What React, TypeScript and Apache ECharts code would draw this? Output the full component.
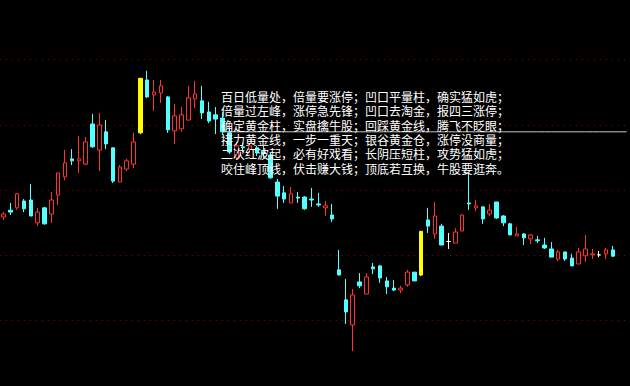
import React, { useEffect, useRef } from "react";
import * as echarts from "echarts";

// Daily prices: open, close, low, high
const opens = [
  17.18, 17.39, 17.46, 17.67, 17.7, 17.0, 17.46, 17.27, 17.85, 18.41,
  18.96, 18.9, 18.8, 20.03, 19.23, 19.79, 19.3, 18.25, 18.65, 18.8,
  19.76, 21.38, 20.92, 20.98, 20.86, 19.82, 19.88, 20.15, 20.8, 20.74,
  20.4, 20.31, 20.21, 19.76, 18.99, 19.33, 19.26, 19.3, 19.17, 19.08,
  18.25, 17.92, 17.61, 17.79, 17.79, 17.73, 17.58, 17.46, 17.24, 15.56,
  14.64, 13.87, 15.19, 14.82, 15.65, 15.68, 15.22, 15.0, 14.94, 15.1,
  15.49, 15.4, 17.09, 16.66, 16.9, 16.43, 16.38, 16.75, 17.61, 17.46,
  17.49, 17.27, 17.64, 17.21, 16.97, 16.6, 16.66, 16.51, 16.48, 16.32,
  16.2, 15.89, 16.11, 15.92, 15.74, 15.99, 16.02, 16.02, 16.05, 16.17,
];
const closes = [
  17.27, 17.33, 17.89, 17.43, 17.21, 17.33, 16.97, 17.7, 18.53, 18.84,
  18.9, 18.96, 19.48, 19.33, 20.0, 19.42, 18.28, 18.71, 18.9, 19.48,
  21.43, 20.86, 21.01, 21.2, 19.85, 20.28, 20.31, 20.83, 20.95, 20.37,
  20.12, 20.18, 19.79, 19.17, 19.36, 19.3, 19.36, 19.14, 19.14, 18.38,
  17.82, 17.73, 17.89, 17.76, 17.43, 17.7, 17.55, 17.52, 17.12, 15.4,
  14.27, 14.79, 15.07, 15.34, 15.59, 15.31, 15.04, 14.94, 15.0, 15.49,
  15.22, 16.74, 16.9, 17.21, 16.32, 16.43, 16.72, 17.24, 17.58, 17.52,
  17.12, 17.39, 17.15, 17.0, 16.63, 16.66, 16.54, 16.63, 16.45, 16.23,
  15.95, 16.11, 15.89, 15.68, 16.11, 16.2, 16.05, 16.02, 16.17, 15.98,
];
const lows = [
  17.09, 17.24, 17.4, 17.33, 17.21, 16.9, 16.94, 17.0, 17.55, 18.31,
  18.77, 18.53, 18.77, 19.3, 18.59, 19.26, 18.22, 18.25, 18.59, 18.68,
  19.72, 20.83, 20.43, 20.67, 19.76, 19.42, 19.79, 20.15, 20.52, 20.18,
  20.06, 19.72, 19.69, 19.11, 18.93, 19.17, 19.14, 19.05, 18.99, 18.35,
  17.43, 17.61, 17.61, 17.61, 17.4, 17.49, 17.49, 17.21, 17.03, 15.4,
  13.9, 13.07, 15.0, 14.82, 15.43, 15.16, 14.82, 14.91, 14.85, 15.04,
  15.22, 15.37, 16.69, 16.51, 16.32, 16.2, 16.38, 16.75, 17.4, 17.36,
  16.97, 17.21, 17.12, 16.9, 16.63, 16.6, 16.32, 16.35, 16.38, 16.2,
  15.95, 15.83, 15.83, 15.68, 15.74, 15.8, 15.89, 15.95, 15.89, 15.95,
];
const highs = [
  17.33, 17.61, 17.92, 17.73, 18.19, 17.46, 17.49, 17.95, 18.53, 19.23,
  19.26, 19.66, 19.63, 20.34, 20.37, 20.15, 19.3, 18.77, 18.96, 19.76,
  21.43, 21.66, 21.38, 21.38, 20.89, 20.64, 20.55, 21.2, 21.35, 21.2,
  20.71, 20.55, 20.4, 19.91, 19.48, 19.45, 19.45, 19.36, 19.36, 19.14,
  18.35, 18.13, 18.1, 17.95, 17.82, 18.07, 17.92, 17.67, 17.58, 16.17,
  15.28, 14.97, 15.46, 15.46, 15.77, 15.71, 15.34, 15.25, 15.07, 15.56,
  15.49, 16.74, 17.46, 17.64, 16.97, 16.69, 16.84, 17.27, 18.53, 17.7,
  17.49, 17.58, 17.64, 17.24, 17.0, 16.87, 16.69, 16.66, 16.6, 16.54,
  16.41, 16.17, 16.11, 16.05, 16.23, 16.63, 16.2, 16.14, 16.23, 16.29,
];
// Trading days, plus two empty slots on the right edge
const days = [...opens.map((_, i) => `D${i + 1}`), "", ""];

// Horizontal price line, drawn from this day to the right edge
const priceLine = 19.79;
const priceLineFrom = 32;

const verse = [
  "百日低量处，倍量要涨停；凹口平量柱，确实猛如虎；",
  "倍量过左峰，涨停急先锋；凹口去淘金，报四三涨停；",
  "确定黄金柱，实盘擒牛股；回踩黄金线，腾飞不眨眼；",
  "接力黄金线，一步一重天；银谷黄金仓，涨停没商量；",
  "二次红波起，必有好戏看；长阴压短柱，攻势猛如虎；",
  "咬住峰顶线，伏击赚大钱；顶底若互换，牛股要逛奔。",
];

const UP = "#ff3232";
const DOWN = "#54ffff";
const LIMIT = "#ffff00";

export default function App() {
  const ref = useRef<HTMLDivElement>(null);

  useEffect(() => {
    if (!ref.current) return;
    const chart = echarts.init(ref.current, null, { renderer: "svg" });

    const candles = opens.map((o, i) => {
      const c = closes[i];
      const value = [o, c, lows[i], highs[i]];
      const limitUp = i > 0 && c >= closes[i - 1] * 1.099;
      return limitUp
        ? { value, itemStyle: { color: LIMIT, borderColor: LIMIT } }
        : value;
    });

    const lineData = days.map((_, i) => {
      if (i < priceLineFrom) return null;
      if (i === priceLineFrom) {
        return {
          value: priceLine,
          label: {
            show: true,
            position: "right",
            offset: [30, -7],
            color: "#8c8c8c",
            fontSize: 11,
            fontFamily: "DejaVu Sans Mono",
            formatter: () => priceLine.toFixed(2),
          },
        };
      }
      return priceLine;
    });

    // one text element per verse line, stacked at a fixed pitch
    const verseLines = verse.map((line, i) => ({
      type: "text",
      left: 221,
      top: 92 + i * 14.3,
      z: 100,
      style: {
        text: line,
        fill: "#ffffff",
        font: '12px "Liberation Sans", "Noto Sans CJK SC"',
      },
    }));

    chart.setOption({
      animation: false,
      backgroundColor: "#000000",
      grid: { left: -2.45, right: -2.3, top: 0, bottom: 0 },
      xAxis: {
        type: "category",
        data: days,
        boundaryGap: true,
        show: false,
      },
      yAxis: {
        type: "value",
        min: 12,
        max: 23.83,
        interval: 2,
        axisLine: { show: false },
        axisTick: { show: false },
        axisLabel: { show: false },
        splitLine: {
          show: true,
          showMinLine: false,
          showMaxLine: false,
          lineStyle: { color: "#900000", width: 1, type: [1, 5] },
        },
      },
      series: [
        {
          type: "line",
          data: lineData,
          symbol: "none",
          silent: true,
          connectNulls: false,
          lineStyle: { color: "#c8c8c8", width: 1 },
          z: 1,
        },
        {
          type: "candlestick",
          data: candles,
          barWidth: 4,
          z: 2,
          itemStyle: {
            color: "#000000",
            color0: DOWN,
            borderColor: UP,
            borderColor0: DOWN,
            borderColorDoji: "#ffffff",
            borderWidth: 1,
          },
        },
      ],
      graphic: verseLines,
    });

    return () => chart.dispose();
  }, []);

  return (
    <div
      ref={ref}
      style={{
        position: "fixed",
        left: 0,
        top: 0,
        width: 630,
        height: 386,
        background: "#000",
      }}
    />
  );
}
